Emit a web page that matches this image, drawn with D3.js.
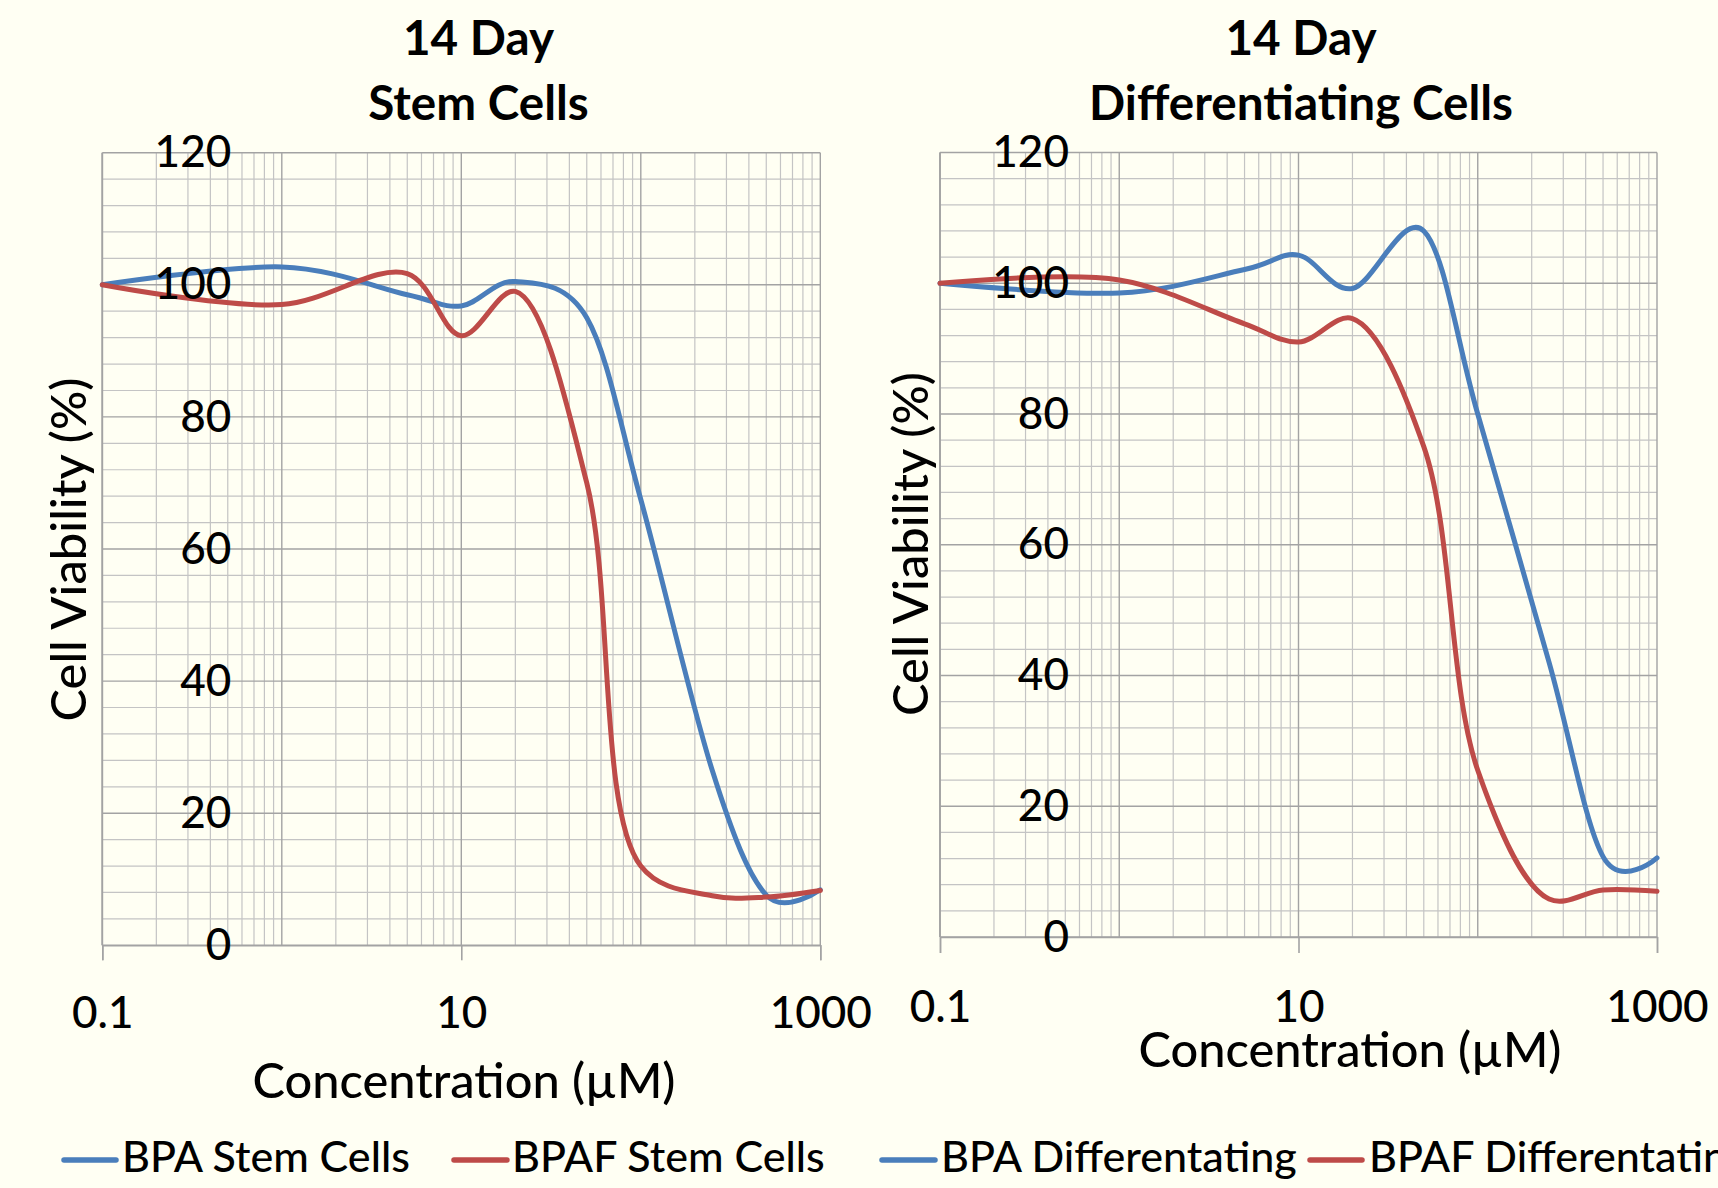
<!DOCTYPE html>
<html>
<head>
<meta charset="utf-8">
<script src="https://cdn.jsdelivr.net/npm/d3@7"></script>
<style>
  html, body { margin: 0; padding: 0; background: #fffff3; }
  svg { display: block; }
</style>
</head>
<body>
<svg id="chart" width="1718" height="1188"></svg>
<script>
// ---------------- DATA ----------------
const concentrations = [0.1, 1, 5, 10, 20, 50, 100, 250, 500, 1000];
const bpaStem   = [100, 102.7, 98.5, 96.8, 100.5, 95, 67.5, 26.5, 7.6, 8.4];
const bpafStem  = [100, 97.0, 101.7, 92.3, 99.0, 70, 12.0, 7.5, 7.3, 8.3];
const bpaDiff   = [100, 98.5, 102.1, 104.3, 99.2, 108, 80, 42, 12.3, 12.1];
const bpafDiff  = [100, 100.5, 93.8, 91.0, 94.6, 75, 25.5, 5.8, 7.2, 7.0];
const xTickValues = [0.1, 10, 1000];
const yTickValues = [0, 20, 40, 60, 80, 100, 120];
const titlesLine1 = ["14 Day", "14 Day"];
const titlesLine2 = ["Stem Cells", "Differentiating Cells"];
const xAxisTitle = "Concentration (\u00B5M)";
const yAxisTitle = "Cell Viability (%)";
const legendLabels = ["BPA Stem Cells", "BPAF Stem Cells", "BPA Differentating", "BPAF Differentating"];

// ---------------- STYLE ----------------
const FONT = "Lato, 'Open Sans', sans-serif";
const NW = 500; // normal text weight
const BLUE = "#4a7ebb";
const RED = "#be4b48";
const svg = d3.select("#chart");
svg.append("rect").attr("width", 1718).attr("height", 1188).attr("fill", "#fffff3");

function fitSize(str, weight, target) {
  const t = svg.append("text").attr("font-family", FONT).attr("font-weight", weight)
    .attr("font-size", 100).text(str);
  const w = t.node().getComputedTextLength();
  t.remove();
  return 100 * target / w;
}
const tickFont = (fitSize("1000", NW, 102) + fitSize("120", NW, 77)) / 2;
const titleFont = (fitSize("Stem Cells", 700, 224) + fitSize("Differentiating Cells", 700, 432) + fitSize("14 Day", 700, 146)) / 3;
const axisTitleFont = fitSize(xAxisTitle, NW, 423);
const yTitleFont = fitSize(yAxisTitle, NW, 344);
const legendFont = (fitSize(legendLabels[0], NW, 287) + fitSize(legendLabels[1], NW, 311) + fitSize(legendLabels[2], NW, 359)) / 3;

const panels = [
  { x0: 102.3, x1: 820.3, y0: 152.7, y1: 945.3, series: [bpaStem, bpafStem], titleX: 478.5,
    xTitleX: 464, xTitleY: 1098, yTitleX: 85.5, yTitleY: 549.5, xLabY: 83, tick: 15 },
  { x0: 940, x1: 1657, y0: 152.5, y1: 937, series: [bpaDiff, bpafDiff], titleX: 1301,
    xTitleX: 1350, xTitleY: 1067, yTitleX: 928, yTitleY: 544, xLabY: 84.7, tick: 16 }
];
// smoothing: blue series uniform Catmull-Rom, red series centripetal (less overshoot at elbows)
const seriesStyle = [
  { color: BLUE, curve: d3.curveCardinal.tension(0) },
  { color: RED, curve: d3.curveCatmullRom.alpha(0.5) }
];

panels.forEach((p, pi) => {
  const x = d3.scaleLog().domain([0.1, 1000]).range([p.x0, p.x1]);
  const y = d3.scaleLinear().domain([0, 120]).range([p.y1, p.y0]);
  const g = svg.append("g");

  // minor horizontal grid (every 4)
  const hMinor = d3.range(0, 121, 4).filter(v => v % 20 !== 0);
  g.selectAll(".hmin").data(hMinor).join("line")
    .attr("x1", p.x0).attr("x2", p.x1).attr("y1", d => y(d)).attr("y2", d => y(d))
    .attr("stroke", "#c4c4c4").attr("stroke-width", 1.2);
  // minor vertical grid
  const vMinor = [];
  [0.1, 1, 10, 100].forEach(b => { for (let k = 2; k <= 9; k++) vMinor.push(b * k); });
  g.selectAll(".vmin").data(vMinor).join("line")
    .attr("x1", d => x(d)).attr("x2", d => x(d)).attr("y1", p.y0).attr("y2", p.y1)
    .attr("stroke", "#c4c4c4").attr("stroke-width", 1.2);
  // major grid
  g.selectAll(".hmaj").data(yTickValues).join("line")
    .attr("x1", p.x0).attr("x2", p.x1).attr("y1", d => y(d)).attr("y2", d => y(d))
    .attr("stroke", "#a3a3a3").attr("stroke-width", 1.4);
  g.selectAll(".vmaj").data([0.1, 1, 10, 100, 1000]).join("line")
    .attr("x1", d => x(d)).attr("x2", d => x(d)).attr("y1", p.y0).attr("y2", p.y1)
    .attr("stroke", "#a3a3a3").attr("stroke-width", 1.4);

  // x axis
  const xAxis = d3.axisBottom(x).tickValues(xTickValues).tickSize(p.tick)
    .tickFormat(d => String(d));
  const xg = g.append("g").attr("transform", `translate(0,${p.y1})`).call(xAxis);
  xg.select(".domain").attr("stroke", "#a3a3a3").attr("stroke-width", 1.4);
  xg.selectAll(".tick line").attr("stroke", "#a3a3a3").attr("stroke-width", 1.6);
  xg.selectAll(".tick text").attr("y", p.xLabY).attr("dy", 0)
    .attr("font-family", FONT).attr("font-weight", NW).attr("font-size", tickFont).attr("fill", "#000");

  // y axis line
  g.append("line").attr("x1", p.x0).attr("x2", p.x0).attr("y1", p.y0).attr("y2", p.y1)
    .attr("stroke", "#a3a3a3").attr("stroke-width", 1.8);

  // series lines
  p.series.forEach((s, si) => {
    const line = d3.line()
      .x((d, i) => x(concentrations[i]))
      .y(d => y(d))
      .curve(seriesStyle[si].curve);
    g.append("path").datum(s).attr("d", line).attr("fill", "none")
      .attr("stroke", seriesStyle[si].color).attr("stroke-width", 5)
      .attr("stroke-linejoin", "round").attr("stroke-linecap", "round");
  });

  // y axis labels (drawn over lines)
  const yAxis = d3.axisLeft(y).tickValues(yTickValues).tickSize(0).tickPadding(0);
  const yg = g.append("g").attr("transform", `translate(${p.x0 + 129},0)`).call(yAxis);
  yg.select(".domain").remove();
  yg.selectAll(".tick text").attr("dy", "0.32em")
    .attr("font-family", FONT).attr("font-weight", NW).attr("font-size", tickFont).attr("fill", "#000");

  // titles
  g.append("text").attr("x", p.titleX).attr("y", 55).attr("text-anchor", "middle")
    .attr("font-family", FONT).attr("font-weight", 700).attr("font-size", titleFont)
    .text(titlesLine1[pi]);
  g.append("text").attr("x", p.titleX).attr("y", 120).attr("text-anchor", "middle")
    .attr("font-family", FONT).attr("font-weight", 700).attr("font-size", titleFont)
    .text(titlesLine2[pi]);

  // axis titles
  g.append("text").attr("x", p.xTitleX).attr("y", p.xTitleY).attr("text-anchor", "middle")
    .attr("font-family", FONT).attr("font-weight", NW).attr("font-size", axisTitleFont).text(xAxisTitle);
  g.append("text").attr("transform", `translate(${p.yTitleX},${p.yTitleY}) rotate(-90)`)
    .attr("text-anchor", "middle")
    .attr("font-family", FONT).attr("font-weight", NW).attr("font-size", yTitleFont).text(yAxisTitle);
});

// legend
const legendItems = [
  { x1: 64, x2: 116, tx: 122, color: BLUE },
  { x1: 454, x2: 507, tx: 512, color: RED },
  { x1: 882, x2: 935, tx: 941, color: BLUE },
  { x1: 1310, x2: 1362, tx: 1369, color: RED }
];
const lg = svg.append("g");
legendItems.forEach((it, i) => {
  lg.append("line").attr("x1", it.x1).attr("x2", it.x2).attr("y1", 1160).attr("y2", 1160)
    .attr("stroke", it.color).attr("stroke-width", 5.5).attr("stroke-linecap", "round");
  lg.append("text").attr("x", it.tx).attr("y", 1172)
    .attr("font-family", FONT).attr("font-weight", NW).attr("font-size", legendFont).text(legendLabels[i]);
});
</script>
</body>
</html>
